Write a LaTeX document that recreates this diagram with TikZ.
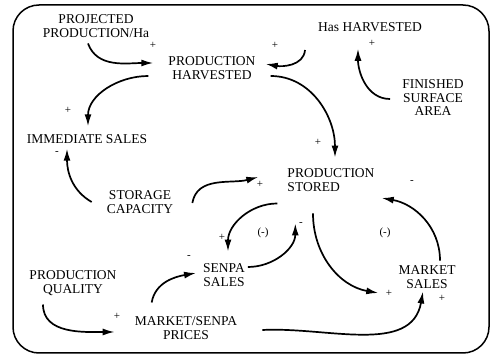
\documentclass[tikz,border=0pt]{standalone}
\usepackage{fontspec}
\setmainfont{Liberation Serif}
\usetikzlibrary{arrows.meta}
\begin{document}
\begin{tikzpicture}[x=1pt,y=1pt,
    lbl/.style={inner sep=0pt,align=center,font=\fontsize{13.5}{13.5}\selectfont},
    sgn/.style={inner sep=0pt,font=\fontsize{11}{11}\selectfont},
    arr/.style={line width=1.7pt,-{Latex[length=12pt,width=7pt]}}]
        \useasboundingbox (0,0) rectangle (491,-358);
        \draw[line width=1.5pt,rounded corners=26pt] (13,-5) rectangle (489,-353);
        \node[lbl] (pp) at (96,-26) {PROJECTED\\PRODUCTION/Ha};
        \node[lbl] (ph) at (212,-68) {PRODUCTION\\HARVESTED};
        \node[lbl] (has) at (370,-27) {Has HARVESTED};
        \node[lbl] (fsa) at (433,-98) {FINISHED\\SURFACE\\AREA};
        \node[lbl] (is) at (87,-139) {IMMEDIATE SALES};
        \node[lbl] (sc) at (140,-202) {STORAGE\\CAPACITY};
        \node[lbl,align=left] (ps) at (331,-180) {PRODUCTION\\STORED};
        \node[lbl] (ss) at (224,-275) {SENPA\\SALES};
        \node[lbl] (pq) at (73,-283) {PRODUCTION\\QUALITY};
        \node[lbl] (msp) at (186,-328) {MARKET/SENPA\\PRICES};
        \node[lbl] (ms) at (427,-277) {MARKET\\SALES};
        \draw[arr] ([shift={(-8,-6)}]pp.south) to[out=-70,in=180] ([shift={(-15,5)}]ph.west);
        \node[sgn] (s1) at (153,-45) {+};
        \draw[arr] ([shift={(-20,-8)}]ph.west) to[out=180,in=90] ([shift={(1,8)}]is.north);
        \node[sgn] (s2) at (68,-110) {+};
        \draw[arr] ([shift={(-15,0)}]sc.west) to[out=150,in=-90] ([shift={(-20,-5)}]is.south);
        \node[sgn] (s3) at (57,-153) {-};
        \draw[arr] ([shift={(-13,-23)}]has.west) to[out=-95,in=-10] ([shift={(10,4)}]ph.east);
        \node[sgn] (s4) at (275,-45) {+};
        \draw[arr] ([shift={(-12,-1)}]fsa.west) to[out=180,in=-90] ([shift={(-12,-17)}]has.south);
        \node[sgn] (s5) at (372,-43) {+};
        \draw[arr] ([shift={(15,-8)}]ph.east) to[out=0,in=90] ([shift={(4,11)}]ps.north);
        \node[sgn] (s6) at (318,-142) {+};
        \draw[arr] ([shift={(19,-1)}]sc.east) to[out=80,in=195] ([shift={(-29,3)}]ps.west);
        \node[sgn] (s7) at (260,-184) {+};
        \draw[arr] ([shift={(-10,-12)}]ps.south west) to[out=180,in=90] ([shift={(4,12)}]ss.north);
        \node[sgn] (s8) at (222,-237) {+};
        \draw[arr] ([shift={(3,8)}]ss.east) to[out=0,in=-90] ([shift={(8,-32)}]ps.south west);
        \node[sgn] (s9) at (301,-224) {-};
        \draw[arr] ([shift={(-18,-22)}]ps.south) to[out=-90,in=170] ([shift={(-20,-16)}]ms.west);
        \node[sgn] (s10) at (389,-293) {+};
        \draw[arr] ([shift={(13,5)}]ms.north) to[out=90,in=-10] ([shift={(7,-18)}]ps.east);
        \node[sgn] (s11) at (412,-182) {-};
        \draw[arr] ([shift={(-30,-9)}]pq.south) to[out=-90,in=180] ([shift={(-20,-4)}]msp.west);
        \node[sgn] (s12) at (117,-316) {+};
        \draw[arr] ([shift={(17,14)}]msp.north west) to[out=80,in=190] ([shift={(-7,2)}]ss.west);
        \node[sgn] (s13) at (189,-257) {-};
        \draw[arr] ([shift={(25,-2)}]msp.east) to[out=3,in=-100] ([shift={(-4,-3)}]ms.south);
        \node[sgn] (s14) at (442,-298) {+};
        \node[sgn] (l1) at (263,-233) {(-)};
        \node[sgn] (l2) at (385,-233) {(-)};
    \end{tikzpicture}
\end{document}
